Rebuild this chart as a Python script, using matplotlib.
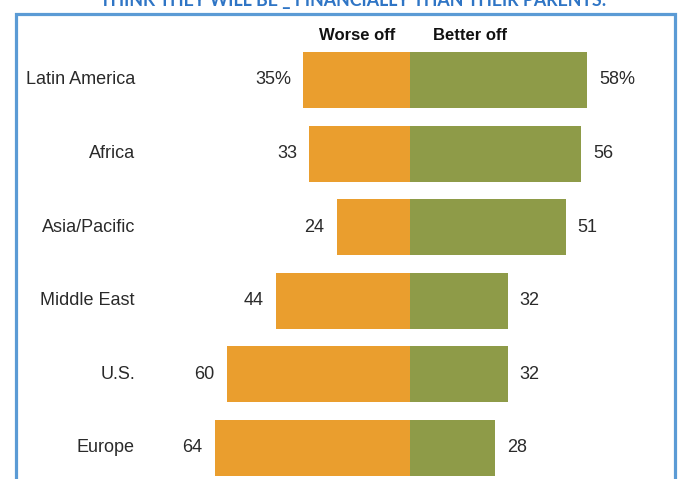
import matplotlib.pyplot as plt
from matplotlib.patches import Rectangle

plt.rcParams['font.family'] = ['Liberation Sans', 'DejaVu Sans']

regions = ['Latin America', 'Africa', 'Asia/Pacific', 'Middle East', 'U.S.', 'Europe']
worse_off = [35, 33, 24, 44, 60, 64]
better_off = [58, 56, 51, 32, 32, 28]

orange = '#EA9E2E'
green = '#8E9B48'

W, H = 681, 479
fig = plt.figure(figsize=(W / 100, H / 100), dpi=100)
ax = fig.add_axes([0, 0, 1, 1])

# 3.05 px per percentage point, zero line at x=410 px
scale = 3.05
ax.set_xlim(-410 / scale, (W - 410) / scale)
row = 73.6
ax.set_ylim((H - 80) / row, -80 / row)
ax.axis('off')

y = range(len(regions))
ax.barh(y, [-v for v in worse_off], height=0.76, color=orange)
ax.barh(y, better_off, height=0.76, color=green)

for i, (name, w, b) in enumerate(zip(regions, worse_off, better_off)):
    suffix = '%' if i == 0 else ''
    ax.text(-90.2, i, name, ha='right', va='center', fontsize=13, color='#2a2a2a')
    ax.text(-w - 4, i, f'{w}{suffix}', ha='right', va='center', fontsize=13, color='#2a2a2a')
    ax.text(b + 4, i, f'{b}{suffix}', ha='left', va='center', fontsize=13, color='#2a2a2a')

# column headers
fig.text(357 / W, 1 - 35 / H, 'Worse off', ha='center', va='center',
         fontsize=12, fontweight='bold', color='#111111')
fig.text(470 / W, 1 - 35 / H, 'Better off', ha='center', va='center',
         fontsize=12, fontweight='bold', color='#111111')

# title, partly above the top edge
fig.text(353 / W, 1 - 6 / H, 'THINK THEY WILL BE _ FINANCIALLY THAN THEIR PARENTS:',
         ha='center', va='baseline', fontsize=12.8, fontweight='bold', color='#2F75C5',
         family=['Lato', 'DejaVu Sans'])

# blue frame
fig.patches.append(Rectangle((15.5 / W, -0.1), (675 - 15.5) / W, 1.1 - 14 / H,
                             transform=fig.transFigure, fill=False,
                             edgecolor='#5B9BD5', linewidth=2.3))

fig.savefig('out.png', dpi=100)
